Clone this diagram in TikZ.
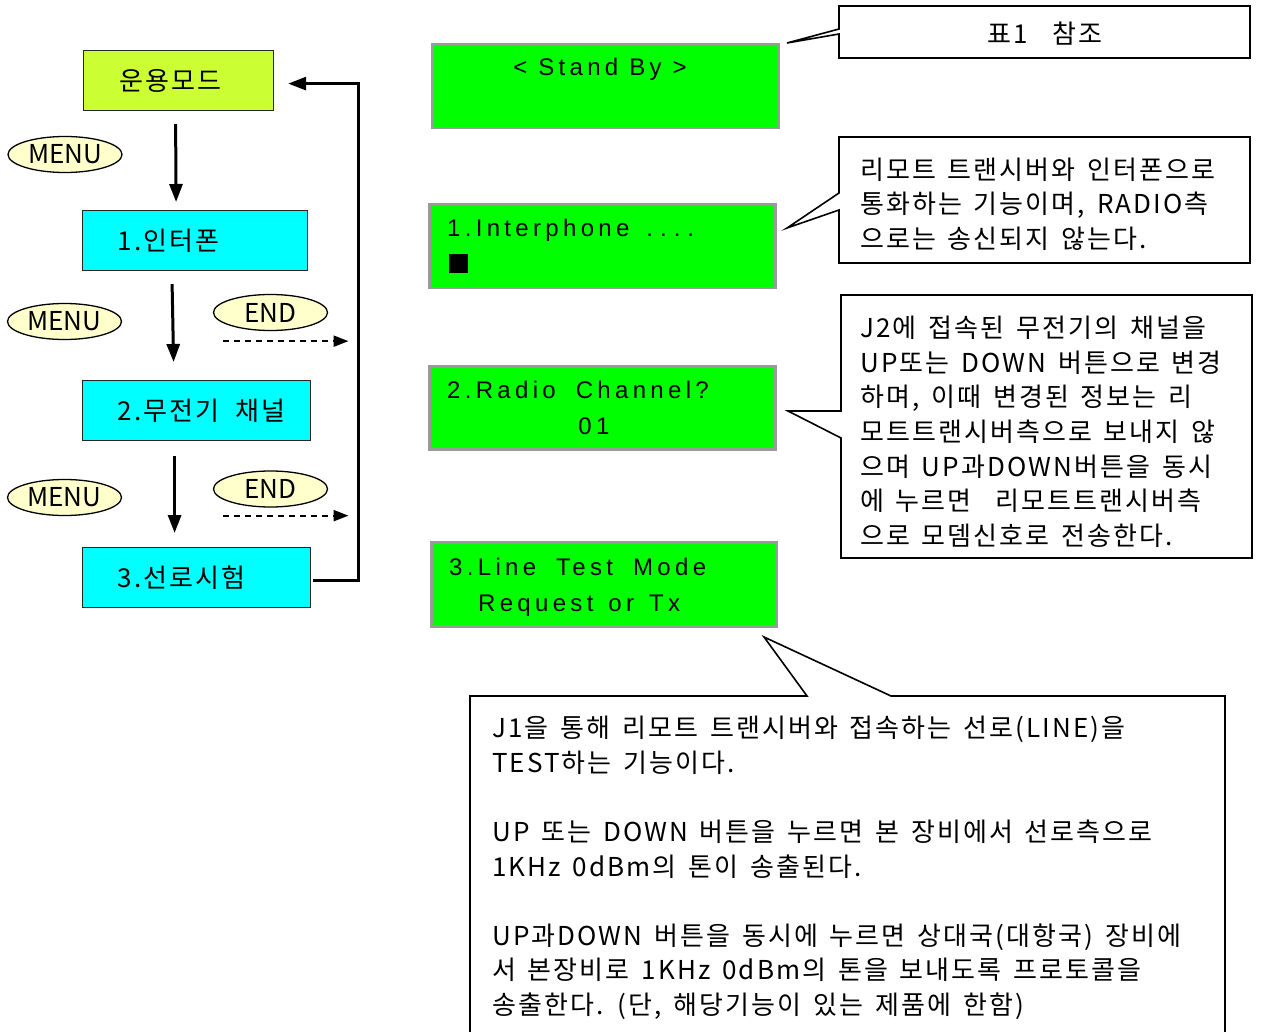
\documentclass[tikz,border=0pt]{standalone}
\usepackage{fontspec}
\setmainfont{Noto Sans CJK KR}[WordSpace=1.5]
\newfontfamily\kfont{Noto Sans CJK KR}[WordSpace=1.5, LetterSpace=8]
\newfontfamily\lcdfont{Liberation Sans}[LetterSpace=18]
\usetikzlibrary{arrows.meta,shapes.geometric}
\definecolor{modefill}{HTML}{CCFF33}
\definecolor{menucyan}{HTML}{00FFFF}
\definecolor{keyfill}{HTML}{FFFFCC}
\definecolor{lcdgreen}{HTML}{00FF00}
\definecolor{lcdedge}{HTML}{9A9A9A}
\newcommand{\lcdgap}{\hspace{9pt}}
\newcommand{\lcdsp}{\hspace{4pt}}
\begin{document}
\begin{tikzpicture}[x=1pt,y=-1pt,
  modebox/.style={draw=black!85, line width=1.2pt, fill=modefill, inner ysep=0pt,
    inner xsep=36pt, align=left, font=\kfont\fontsize{26}{30}\selectfont},
  menubox/.style={draw=black!85, line width=1.2pt, fill=menucyan, inner ysep=0pt,
    inner xsep=10pt, align=left, font=\kfont\fontsize{26}{30}\selectfont},
  keyoval/.style={ellipse, draw=black, line width=1.3pt, fill=keyfill, inner sep=0pt,
    font=\fontsize{26}{30}\selectfont},
  lcdbox/.style={draw=lcdedge, line width=2.5pt, fill=lcdgreen, inner sep=0pt},
  lcdtext/.style={inner sep=0pt, font=\lcdfont\fontsize{24}{28}\selectfont},
  callout/.style={draw=black, line width=1.6pt, line join=miter},
  calltext/.style={inner sep=0pt, anchor=north west, align=left,
    font=\kfont\fontsize{26}{34.6}\selectfont},
  flow/.style={line width=3pt, -{Triangle[length=18pt,width=13pt]}},
  dflow/.style={line width=2.2pt, dash pattern=on 6pt off 5pt, -{Triangle[length=15pt,width=11pt]}}
]
\useasboundingbox (0,0) rectangle (1261,1032);

% left flow
\node[modebox, anchor=north west, minimum width=190, minimum height=60, text width=118] (m0) at (83,50) {운용모드};
\node[menubox, anchor=north west, minimum width=225, minimum height=60, text width=205] (m1) at (82,210) {\hspace*{25pt}1.인터폰};
\node[menubox, anchor=north west, minimum width=228, minimum height=60, text width=208] (m2) at (82,380) {\hspace*{25pt}2.무전기\hspace{16pt}채널};
\node[menubox, anchor=north west, minimum width=228, minimum height=60, text width=208] (m3) at (82,547) {\hspace*{25pt}3.선로시험};

\node[keyoval, minimum width=114, minimum height=36] (k1) at (65,154.5) {MENU};
\node[keyoval, minimum width=114, minimum height=36] (k2) at (64.5,321.5) {MENU};
\node[keyoval, minimum width=114, minimum height=36] (k3) at (64.5,497.5) {MENU};
\node[keyoval, minimum width=114, minimum height=36] (e1) at (270.5,312.5) {END};
\node[keyoval, minimum width=114, minimum height=36] (e2) at (270.5,489) {END};

\draw[flow] ([xshift=-3pt,yshift=-13pt]m0.south) -- ([xshift=-19pt,yshift=8pt]m1.north);
\draw[flow] ([xshift=-23pt,yshift=-13pt]m1.south) -- ([xshift=-23pt,yshift=18pt]m2.north);
\draw[flow] ([xshift=-22pt,yshift=-15pt]m2.south) -- ([xshift=-22pt,yshift=14pt]m3.north);
\draw[dflow] ([xshift=-47.5pt,yshift=-10pt]e1.south) -- ([xshift=78pt,yshift=-10pt]e1.south);
\draw[dflow] ([xshift=-47.5pt,yshift=-8pt]e2.south) -- ([xshift=78pt,yshift=-8pt]e2.south);
\draw[flow] ([xshift=2pt,yshift=-3pt]m3.east) -- ++(45,0) |- ([xshift=14pt,yshift=-3pt]m0.east);

% LCD displays
\node[lcdbox, anchor=north west, minimum width=346, minimum height=84] (d0) at (431,43) {};
\node[lcdbox, anchor=north west, minimum width=346, minimum height=84] (d1) at (428,203) {};
\node[lcdbox, anchor=north west, minimum width=346, minimum height=83] (d2) at (428,365) {};
\node[lcdbox, anchor=north west, minimum width=345, minimum height=84] (d3) at (430,541) {};

\node[lcdtext, anchor=base] (d0t) at (600,76) {< Stand By >};
\node[lcdtext, anchor=base west] (d1t) at (447,237) {1.Interphone\hspace{17pt}.\hspace{7pt}.\hspace{7pt}.\hspace{7pt}.};
\node[fill=black, inner sep=0pt, minimum width=19, minimum height=19, anchor=north west] (cur) at (449,254) {};
\node[lcdtext, anchor=base west] (d2t) at (447,398) {2.Radio \lcdgap Channel?};
\node[lcdtext, anchor=base] (d2v) at (594,434) {01};
\node[lcdtext, anchor=base west] (d3t) at (449,575) {3.Line \lcdgap Test \lcdgap Mode};
\node[lcdtext, anchor=base west] (d3v) at (478,611) {Request\ \lcdsp or\ \lcdsp Tx};

% callouts
\draw[callout] (839,6) -- (1250,6) -- (1250,58) -- (839,58) -- (839,34) -- (787,43) -- (839,29) -- cycle;
\node[inner sep=0pt, font=\kfont\fontsize{26}{30}\selectfont] (c1t) at (1045,34) {표1 \ 참조};

\draw[callout] (839,137) -- (1250,137) -- (1250,263) -- (839,263) -- (839,210) -- (787,228) -- (839,193) -- cycle;
\node[calltext] (c2t) at (860,157.5) {리모트 트랜시버와 인터폰으로\\통화하는 기능이며, RADIO측\\으로는 송신되지 않는다.};

\draw[callout] (841,295) -- (1252,295) -- (1252,558) -- (841,558) -- (841,438) -- (788,411) -- (841,411) -- cycle;
\node[calltext] (c3t) at (860,316) {J2에 접속된 무전기의 채널을\\UP또는 DOWN 버튼으로 변경\\하며, 이때 변경된 정보는 리\\모트트랜시버측으로 보내지 않\\으며 UP과DOWN버튼을 동시\\에 누르면 \ 리모트트랜시버측\\으로 모뎀신호로 전송한다.};

\draw[callout] (470,1033) -- (470,696) -- (807,696) -- (764,637) -- (891,696) -- (1225,696) -- (1225,1033);
\node[calltext] (c4t) at (492,716) {J1을 통해 리모트 트랜시버와 접속하는 선로(LINE)을\\TEST하는 기능이다.\\[34.6pt]UP 또는 DOWN 버튼을 누르면 본 장비에서 선로측으로\\1KHz 0dBm의 톤이 송출된다.\\[34.6pt]UP과DOWN 버튼을 동시에 누르면 상대국(대항국) 장비에\\서 본장비로 1KHz 0dBm의 톤을 보내도록 프로토콜을\\송출한다. (단, 해당기능이 있는 제품에 한함)};
\end{tikzpicture}
\end{document}
